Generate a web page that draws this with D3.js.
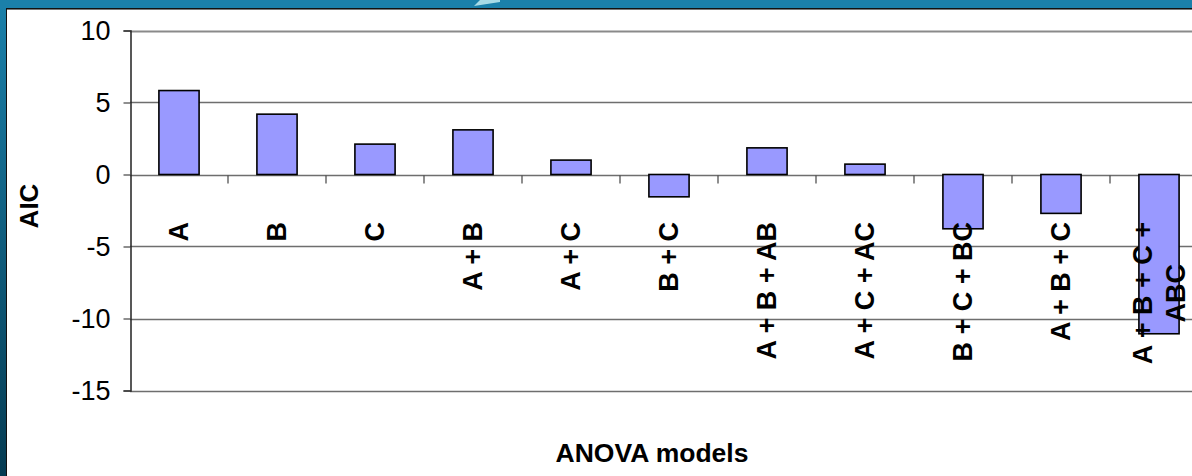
<!DOCTYPE html>
<html>
<head>
<meta charset="utf-8">
<script src="https://cdn.jsdelivr.net/npm/d3@7"></script>
<style>
  html, body { margin: 0; padding: 0; overflow: hidden; background: #1a7fa8; }
  svg { display: block; }
  text { font-family: "Liberation Sans", Arial, sans-serif; fill: #000; }
</style>
</head>
<body>
<svg id="chart" width="1192" height="476"></svg>
<script>
// AIC per ANOVA model
const models = ["A", "B", "C", "A + B", "A + C", "B + C", "A + B + AB", "A + C + AC", "B + C + BC", "A + B + C", "A + B + C + ABC"];
const aic = [5.83, 4.19, 2.11, 3.1, 1.0, -1.55, 1.85, 0.72, -3.77, -2.7, -11.06];
const yTicks = [10, 5, 0, -5, -10, -15];
const yTitle = "AIC";
const xTitle = "ANOVA models";

const W = 1192, H = 476;
const svg = d3.select("#chart");

// slide frame: blue header band and darkening left edge
const defs = svg.append("defs");
const grad = defs.append("linearGradient").attr("id", "edge").attr("x1", 0).attr("y1", 0).attr("x2", 0).attr("y2", 1);
grad.append("stop").attr("offset", "0%").attr("stop-color", "#1a80aa");
grad.append("stop").attr("offset", "100%").attr("stop-color", "#053b52");
svg.append("rect").attr("x", 0).attr("y", 0).attr("width", W).attr("height", H).attr("fill", "url(#edge)");
svg.append("rect").attr("x", 0).attr("y", 0).attr("width", W).attr("height", 9).attr("fill", "#1b80aa");
svg.append("path").attr("d", "M474,6 L480,0 L500,0 L500,2 Z").attr("fill", "#a9dbe6");
svg.append("rect").attr("x", 6).attr("y", 8).attr("width", W - 6).attr("height", H - 8).attr("fill", "#111");
svg.append("rect").attr("x", 7).attr("y", 9).attr("width", W - 7).attr("height", 1.2).attr("fill", "#777");
svg.append("rect").attr("x", 7).attr("y", 10).attr("width", W - 7).attr("height", H - 10).attr("fill", "#fff");

const plot = { left: 130, right: 1208, top: 30.5, bottom: 390.5 };

const x = d3.scaleBand().domain(models).range([plot.left, plot.right]).paddingInner(0.59).paddingOuter(0.295);
const y = d3.scaleLinear().domain([-15, 10]).range([plot.bottom, plot.top]);

// horizontal gridlines
svg.append("g").selectAll("line").data(yTicks).join("line")
  .attr("x1", plot.left).attr("x2", W)
  .attr("y1", d => Math.round(y(d)) + 0.5).attr("y2", d => Math.round(y(d)) + 0.5)
  .attr("stroke", d => d === 10 ? "#8a8a8a" : "#6e6e6e")
  .attr("stroke-width", d => d === 10 ? 2 : 1.3);

// value axis (plain hyphen for negatives)
const yAxis = svg.append("g").attr("transform", `translate(${plot.left + 0.5},0)`)
  .call(d3.axisLeft(y).tickValues(yTicks).tickSize(7).tickPadding(13).tickFormat(d => String(d)));
yAxis.select(".domain").attr("stroke", "#222").attr("stroke-width", 1.5);
yAxis.selectAll(".tick line").attr("stroke", "#444").attr("stroke-width", 1.2);
yAxis.selectAll(".tick text").attr("font-size", 27).attr("font-family", "Liberation Sans, Arial, sans-serif").attr("fill", "#000");

// category ticks on the zero line
const bounds = d3.range(1, models.length).map(i => plot.left + i * x.step());
const y0 = Math.round(y(0)) + 0.5;
svg.append("g").selectAll("line").data(bounds).join("line")
  .attr("x1", d => d).attr("x2", d => d)
  .attr("y1", y0).attr("y2", y0 + 8)
  .attr("stroke", "#444").attr("stroke-width", 1.2);

// bars
svg.append("g").selectAll("rect").data(models).join("rect")
  .attr("x", d => x(d))
  .attr("width", x.bandwidth())
  .attr("y", (d, i) => y(Math.max(0, aic[i])))
  .attr("height", (d, i) => Math.abs(y(aic[i]) - y(0)))
  .attr("fill", "#9999ff")
  .attr("stroke", "#000")
  .attr("stroke-width", 1.6);

// rotated category labels, wrapped when too long
const labelSize = 27;
const labelTop = 222;
const maxLen = 150;
const lineGap = 33;
const measurer = svg.append("text").attr("font-size", labelSize).attr("font-weight", "bold").attr("visibility", "hidden");
function textWidth(s) { measurer.text(s); return measurer.node().getComputedTextLength(); }
function wrap(label) {
  const words = label.split(" ");
  const lines = [];
  let cur = "";
  words.forEach(w => {
    const trial = cur ? cur + " " + w : w;
    if (cur && textWidth(trial) > maxLen) { lines.push(cur); cur = w; }
    else cur = trial;
  });
  lines.push(cur);
  return lines;
}
const labels = svg.append("g");
models.forEach(m => {
  const lines = wrap(m);
  const cx = x(m) + x.bandwidth() / 2;
  const widest = d3.max(lines, textWidth);
  const g = labels.append("g").attr("transform", `translate(${cx},${labelTop}) rotate(-90)`);
  lines.forEach((ln, i) => {
    g.append("text")
      .attr("x", -widest / 2)
      .attr("y", (i - (lines.length - 1) / 2) * lineGap)
      .attr("text-anchor", "middle")
      .attr("dominant-baseline", "central")
      .attr("font-size", labelSize)
      .attr("font-weight", "bold")
      .text(ln);
  });
});
measurer.remove();

// axis titles
svg.append("text")
  .attr("transform", `translate(29,206) rotate(-90)`)
  .attr("text-anchor", "middle").attr("dominant-baseline", "central")
  .attr("font-size", 26).attr("font-weight", "bold").text(yTitle);
svg.append("text")
  .attr("x", 652).attr("y", 462)
  .attr("text-anchor", "middle")
  .attr("font-size", 26.5).attr("font-weight", "bold").text(xTitle);
</script>
</body>
</html>
